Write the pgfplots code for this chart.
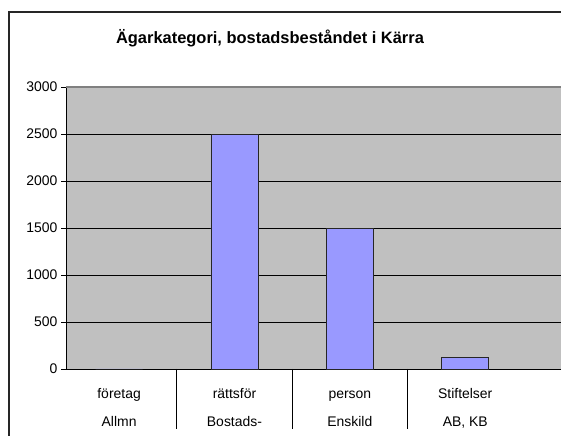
\documentclass[border=0pt]{standalone}
\usepackage{fontspec}
\setmainfont{Liberation Sans}
\usepackage{pgfplots}
\pgfplotsset{compat=1.18}
\definecolor{plotgray}{HTML}{C0C0C0}
\definecolor{barblue}{HTML}{9999FF}
\definecolor{bordergray}{HTML}{808080}
\newcommand{\twol}[2]{\strut #1\\[11bp]\strut #2}
\begin{document}
\begin{tikzpicture}[x=1bp,y=1bp]
\path[use as bounding box, clip] (0,0) rectangle (561,436);
\draw[line width=1.3bp, black!85] (9,-5) -- (9,424) -- (570,424);
\node[anchor=base, font=\bfseries\fontsize{16.5}{19}\selectfont] at (270,392) {Ägarkategori, bostadsbeståndet i Kärra};
\begin{axis}[
  at={(66bp,67bp)}, anchor=south west,
  scale only axis, width=495bp, height=282bp,
  xmin=-0.46, xmax=3.83, ymin=0, ymax=3000,
  ytick={0,500,...,3000},
  xtick={0,1,2,3},
  xticklabels={{\twol{företag}{Allmn}},{\twol{rättsför}{Bostads-}},{\twol{person}{Enskild}},{\twol{Stiftelser}{AB, KB}}},
  xticklabel style={align=center, font=\fontsize{14}{17}\selectfont, yshift=-9bp},
  yticklabel style={font=\fontsize{14}{17}\selectfont},
  /pgf/number format/assume math mode=true,
  /pgf/number format/set thousands separator={},
  ymajorgrids, grid style={black, line width=0.8bp},
  axis background/.style={fill=plotgray},
  axis x line*=bottom, axis y line*=left,
  axis line style={black, line width=0.9bp},
  x tick style={draw=none},
  y tick style={black, line width=0.8bp},
  tick align=outside, major tick length=5bp,
  clip=false,
]
\addplot[ybar, bar width=47bp, fill=barblue, draw=black!85, line width=0.9bp] coordinates {(0,0) (1,2490) (2,1490) (3,120)};
\draw[bordergray, line width=2bp] (rel axis cs:0,1) -- (rel axis cs:1,1);
\draw[black, line width=0.8bp] (axis cs:0.5,0) -- ++(0pt,-60bp);
\draw[black, line width=0.8bp] (axis cs:1.5,0) -- ++(0pt,-60bp);
\draw[black, line width=0.8bp] (axis cs:2.5,0) -- ++(0pt,-60bp);
\end{axis}
\end{tikzpicture}
\end{document}
